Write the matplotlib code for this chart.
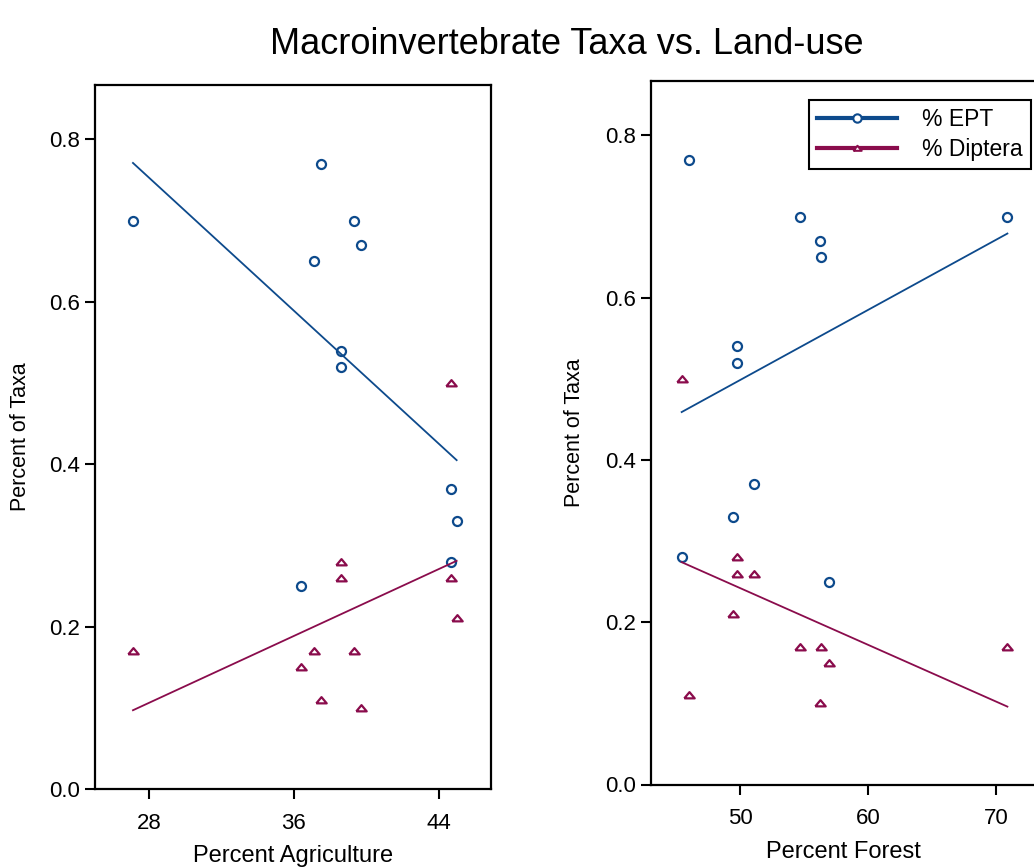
import matplotlib
matplotlib.use("Agg")
import matplotlib.pyplot as plt
from matplotlib.lines import Line2D

plt.rcParams["font.family"] = ["Liberation Sans", "DejaVu Sans"]

# one entry per site
agri = [27.1, 36.4, 37.1, 37.5, 38.6, 38.6, 39.3, 39.7, 44.7, 44.7, 45.0]
forest = [70.9, 56.9, 56.3, 46.0, 49.7, 49.7, 54.7, 56.2, 51.1, 45.4, 49.4]
ept = [0.70, 0.25, 0.65, 0.77, 0.54, 0.52, 0.70, 0.67, 0.37, 0.28, 0.33]
diptera = [0.17, 0.15, 0.17, 0.11, 0.28, 0.26, 0.17, 0.10, 0.26, 0.50, 0.21]

# regression lines (end points)
agri_fit_x = [27.1, 45.0]
ept_agri_fit = [0.771, 0.405]
dip_agri_fit = [0.097, 0.281]
forest_fit_x = [45.4, 70.9]
ept_forest_fit = [0.459, 0.679]
dip_forest_fit = [0.274, 0.096]

agri_ticks = [28, 36, 44]
forest_ticks = [50, 60, 70]
y_ticks = [0.0, 0.2, 0.4, 0.6, 0.8]

BLUE = "#0d4a8c"
MAROON = "#8a0c4c"
TRI = [(-1, -0.55), (1, -0.55), (0, 0.65), (-1, -0.55)]

W, H = 1034, 867
fig = plt.figure(figsize=(W / 100, H / 100), dpi=100)
ax1 = fig.add_axes([95 / W, (H - 789) / H, 396 / W, 704 / H])
ax2 = fig.add_axes([651 / W, (H - 784.5) / H, 396 / W, 703.5 / H])


def panel(ax, x, fit_x, ept_fit, dip_fit, xticks, xlim, xlabel):
    ax.plot(x, ept, linestyle="none", marker="o", ms=6.5, mfc="none",
            mec=BLUE, mew=1.6)
    ax.plot(x, diptera, linestyle="none", marker=TRI, ms=7.5, mfc="none",
            mec=MAROON, mew=1.6)
    ax.plot(fit_x, ept_fit, color=BLUE, lw=1.3)
    ax.plot(fit_x, dip_fit, color=MAROON, lw=1.3)
    ax.set_xlim(*xlim)
    ax.set_ylim(0, 0.867)
    ax.set_xticks(xticks)
    ax.set_yticks(y_ticks)
    ax.set_yticklabels([f"{v:.1f}" for v in y_ticks])
    ax.tick_params(direction="out", length=7, width=1.5, labelsize=16, pad=4)
    ax.tick_params(axis="x", pad=10)
    for s in ax.spines.values():
        s.set_linewidth(1.6)
    ax.set_xlabel(xlabel, fontsize=17)
    ax.set_ylabel("Percent of Taxa", fontsize=15.5, va="center")


panel(ax1, agri, agri_fit_x, ept_agri_fit, dip_agri_fit, agri_ticks,
      (25, 46.9), "Percent Agriculture")
panel(ax2, forest, forest_fit_x, ept_forest_fit, dip_forest_fit, forest_ticks,
      (43, 74), "Percent Forest")

ax1.yaxis.set_label_coords(-0.189, 0.5)
ax1.xaxis.set_label_coords(0.5, -0.08)
ax2.yaxis.set_label_coords(-0.192, 0.5)
ax2.xaxis.set_label_coords(0.487, -0.08)

handles = [
    Line2D([], [], color=BLUE, lw=3, marker="o", ms=6, mfc="white", mec=BLUE, mew=1.5),
    Line2D([], [], color=MAROON, lw=3, marker=TRI, ms=6, mfc="white", mec=MAROON, mew=1.5),
]
leg = ax2.legend(handles, ["% EPT", "% Diptera"], loc="upper right",
                 bbox_to_anchor=(1031 / W, (H - 100) / H),
                 bbox_transform=fig.transFigure, borderaxespad=0,
                 fontsize=16.5, fancybox=False, framealpha=1, edgecolor="black",
                 handlelength=3.5, handletextpad=1.1, borderpad=0.35,
                 labelspacing=0.3)
leg.get_frame().set_linewidth(1.5)

fig.text(567 / W, 1 - 45 / H, "Macroinvertebrate Taxa vs. Land-use",
         ha="center", va="center", fontsize=26)

fig.savefig("out.png", dpi=100)
